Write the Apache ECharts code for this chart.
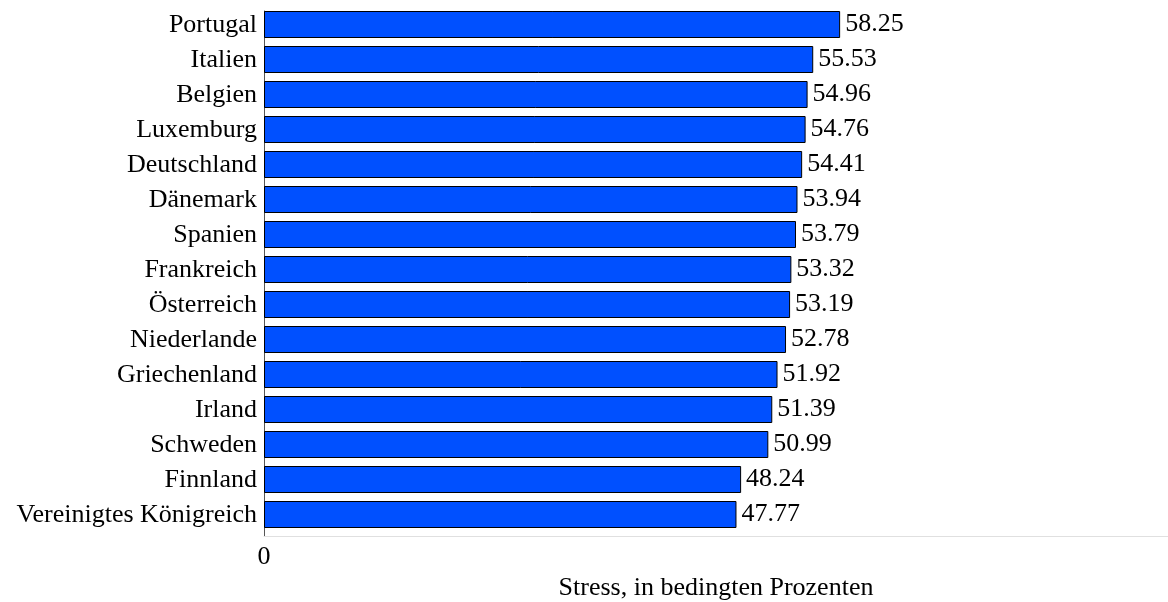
<!DOCTYPE html>
<html>
<head>
<meta charset="utf-8">
<script src="https://cdn.jsdelivr.net/npm/echarts@6/dist/echarts.min.js"></script>
<style>html,body{margin:0;padding:0;background:#fff}#c{width:1168px;height:602px}</style>
</head>
<body>
<div id="c"></div>
<script>
const countries = ["Portugal","Italien","Belgien","Luxemburg","Deutschland","Dänemark","Spanien","Frankreich","Österreich","Niederlande","Griechenland","Irland","Schweden","Finnland","Vereinigtes Königreich"];
const stressValues = [58.25,55.53,54.96,54.76,54.41,53.94,53.79,53.32,53.19,52.78,51.92,51.39,50.99,48.24,47.77];
const axisMax = 91.4;
const axisTitle = "Stress, in bedingten Prozenten";

const FONT = '"Liberation Serif", "Times New Roman", serif';
const chart = echarts.init(document.getElementById('c'), null, {renderer: 'canvas'});
chart.setOption({
  animation: false,
  backgroundColor: '#fff',
  grid: {left: 264, right: 0, top: 11, bottom: 66, containLabel: false, outerBoundsMode: 'none'},
  xAxis: {
    type: 'value', min: 0, max: axisMax, interval: axisMax,
    name: axisTitle, nameLocation: 'middle', nameGap: 39,
    nameTextStyle: {fontFamily: FONT, fontSize: 26, color: '#000'},
    axisLine: {show: true, lineStyle: {color: '#e0e0e0', width: 1}},
    axisTick: {show: false},
    splitLine: {show: false},
    axisLabel: {showMaxLabel: false, fontFamily: FONT, fontSize: 26, color: '#000', margin: 8}
  },
  yAxis: {
    type: 'category', data: countries, inverse: true,
    axisLine: {show: true, lineStyle: {color: '#555', width: 1}},
    axisTick: {show: false},
    axisLabel: {fontFamily: FONT, fontSize: 26, color: '#000', margin: 7, verticalAlign: 'bottom', lineHeight: 7}
  },
  series: [
    {
      type: 'bar', data: stressValues, barWidth: 27, barGap: '0%',
      itemStyle: {color: '#0050ff', borderColor: '#000', borderWidth: 1},
      label: {show: true, position: 'right', distance: 5, fontFamily: FONT, fontSize: 26, color: '#000'}
    },
    {
      type: 'bar', data: stressValues.map(() => null), barWidth: 8, barGap: '0%',
      itemStyle: {color: 'transparent'}
    }
  ]
});
</script>
</body>
</html>
